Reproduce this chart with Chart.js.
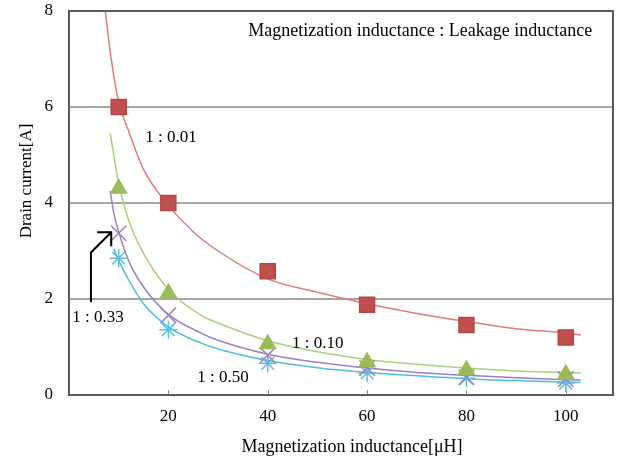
<!DOCTYPE html>
<html>
<head>
<meta charset="utf-8">
<script src="https://cdn.jsdelivr.net/npm/chart.js@4/dist/chart.umd.min.js"></script>
<style>
    html, body { margin: 0; padding: 0; background: #fff; overflow: hidden; }
    #wrap { width: 621px; height: 461px; }
</style>
</head>
<body>
<div id="wrap"><canvas id="chart"></canvas></div>
<script>
// measured points (markers)
const xMarks = [10, 20, 40, 60, 80, 100];
const ratio001 = [6.0, 4.0, 2.58, 1.88, 1.46, 1.2];
const ratio010 = [4.3, 2.12, 1.06, 0.69, 0.52, 0.43];
const ratio033 = [3.37, 1.66, 0.83, 0.56, 0.37, 0.33];
const ratio050 = [2.85, 1.36, 0.66, 0.46, 0.35, 0.25];

// trend curves
const fit001X = [7.3, 8.5, 10, 12, 15, 20, 25, 30, 40, 50, 60, 70, 80, 90, 100, 103];
const fit001Y = [8.0, 7.0, 6.1, 5.5, 4.7, 3.95, 3.4, 3.0, 2.42, 2.14, 1.9, 1.7, 1.53, 1.38, 1.29, 1.25];
const fit010X = [8.3, 9, 10, 12, 15, 20, 26.6, 30, 40, 50, 60, 70, 80, 90, 100, 103];
const fit010Y = [5.45, 5.0, 4.4, 3.64, 2.95, 2.2, 1.66, 1.5, 1.13, 0.9, 0.74, 0.64, 0.56, 0.5, 0.47, 0.46];
const fit033X = [8.3, 9, 10, 12, 15, 20, 26.6, 30, 40, 50, 60, 70, 80, 90, 100, 103];
const fit033Y = [4.25, 3.8, 3.4, 2.8, 2.25, 1.68, 1.29, 1.14, 0.85, 0.68, 0.56, 0.47, 0.41, 0.36, 0.32, 0.31];
const fit050X = [9, 10, 12, 15, 20, 26.6, 30, 40, 50, 60, 70, 80, 90, 100, 103];
const fit050Y = [3.05, 2.8, 2.4, 1.9, 1.42, 1.08, 0.96, 0.72, 0.57, 0.47, 0.4, 0.34, 0.3, 0.27, 0.26];

const xTicks = [20, 40, 60, 80, 100];
const yTicks = [0, 2, 4, 6, 8];

const FONT = "'Liberation Serif', 'Times New Roman', serif";

function pts(xs, ys) {
    return xs.map((x, i) => ({x: x, y: ys[i]}));
}

function marks(label, ys, style, radius, fill, border) {
    return {
        label: label,
        data: pts(xMarks, ys),
        showLine: false,
        pointStyle: style,
        pointRadius: radius,
        pointHoverRadius: radius,
        pointBackgroundColor: fill,
        pointBorderColor: border,
        pointBorderWidth: 1.5,
        order: 0
    };
}

function curve(label, xs, ys, color) {
    return {
        label: label,
        data: pts(xs, ys),
        showLine: true,
        pointRadius: 0,
        borderColor: color,
        borderWidth: 1.5,
        cubicInterpolationMode: 'monotone',
        order: 1
    };
}

// text, arrow, frame and axis titles
const extras = {
    id: 'extras',
    beforeDatasetsDraw(chart) {
        const {ctx, chartArea: a, scales: {x, y}} = chart;
        ctx.save();
        ctx.strokeStyle = '#8c8c8c';
        ctx.lineWidth = 1;
        for (const v of xTicks) {
            const px = Math.round(x.getPixelForValue(v)) + 0.5;
            ctx.beginPath();
            ctx.moveTo(px, a.bottom);
            ctx.lineTo(px, a.bottom - 5);
            ctx.stroke();
        }
        ctx.restore();
    },
    afterDraw(chart) {
        const {ctx, chartArea: a, scales: {x, y}} = chart;
        ctx.save();
        ctx.strokeStyle = '#5a5a5a';
        ctx.lineWidth = 2;
        ctx.strokeRect(a.left, a.top, a.right - a.left, a.bottom - a.top);

        ctx.fillStyle = '#000';
        ctx.textBaseline = 'middle';

        ctx.font = '18px ' + FONT;
        ctx.textAlign = 'center';
        ctx.fillText('Magnetization inductance : Leakage inductance', x.getPixelForValue(70.7), y.getPixelForValue(7.58));

        ctx.font = '17px ' + FONT;
        ctx.textAlign = 'left';
        ctx.fillText('1 : 0.01', x.getPixelForValue(15.35), y.getPixelForValue(5.36));
        ctx.fillText('1 : 0.10', x.getPixelForValue(44.9), y.getPixelForValue(1.08));
        ctx.fillText('1 : 0.50', x.getPixelForValue(25.8), y.getPixelForValue(0.37));
        ctx.fillText('1 : 0.33', x.getPixelForValue(0.66), y.getPixelForValue(1.62));

        // arrow to the 1 : 0.33 curve
        const x0 = x.getPixelForValue(4.42), yA = y.getPixelForValue(1.93), yB = y.getPixelForValue(2.97);
        const tx = x.getPixelForValue(8.5), ty = y.getPixelForValue(3.39);
        ctx.strokeStyle = '#000';
        ctx.lineWidth = 2;
        ctx.beginPath();
        ctx.moveTo(x0, yA);
        ctx.lineTo(x0, yB);
        ctx.lineTo(tx, ty);
        ctx.stroke();
        ctx.beginPath();
        ctx.moveTo(tx - 14, ty);
        ctx.lineTo(tx, ty);
        ctx.lineTo(tx, ty + 14);
        ctx.stroke();

        // axis titles
        ctx.font = '18px ' + FONT;
        ctx.textAlign = 'center';
        ctx.fillText('Magnetization inductance[\u03bcH]', 352, 447);
        ctx.font = '17px ' + FONT;
        ctx.translate(27, 181);
        ctx.rotate(-Math.PI / 2);
        ctx.fillText('Drain current[A]', 0, 0);
        ctx.restore();
    }
};

new Chart(document.getElementById('chart'), {
    type: 'scatter',
    data: {
        datasets: [
            marks('1 : 0.01', ratio001, 'rect', 10.6, '#c0504d', '#b54542'),
            marks('1 : 0.10', ratio010, 'triangle', 9, '#9bbb59', '#9bbb59'),
            marks('1 : 0.33', ratio033, 'crossRot', 11, '#8064a2', '#9a84c0'),
            marks('1 : 0.50', ratio050, 'star', 9, '#4bacc6', '#5bbde0'),
            curve('fit 1 : 0.01', fit001X, fit001Y, '#e07a78'),
            curve('fit 1 : 0.10', fit010X, fit010Y, '#a9cf7c'),
            curve('fit 1 : 0.33', fit033X, fit033Y, '#9a7fcb'),
            curve('fit 1 : 0.50', fit050X, fit050Y, '#4fbde0')
        ]
    },
    plugins: [extras],
    options: {
        responsive: true,
        maintainAspectRatio: false,
        animation: false,
        layout: {autoPadding: false, padding: {top: 11, right: 8, left: 0, bottom: 0}},
        plugins: {
            legend: {display: false},
            tooltip: {enabled: false}
        },
        scales: {
            x: {
                type: 'linear',
                min: 0,
                max: 109.5,
                afterBuildTicks: (s) => { s.ticks = xTicks.map(v => ({value: v})); },
                afterFit: (s) => { s.height = 66; s.paddingLeft = 0; s.paddingRight = 0; },
                border: {display: false},
                grid: {display: false, drawTicks: false},
                ticks: {color: '#000', padding: 11, font: {family: FONT, size: 17}}
            },
            y: {
                type: 'linear',
                min: 0,
                max: 8,
                afterBuildTicks: (s) => { s.ticks = yTicks.map(v => ({value: v})); },
                afterFit: (s) => { s.width = 69; s.paddingTop = 0; s.paddingBottom = 0; },
                border: {display: false},
                grid: {
                    drawTicks: false,
                    lineWidth: 2,
                    color: (c) => (c.tick && c.tick.value > 0 && c.tick.value < 8) ? '#a6a6a6' : 'rgba(0,0,0,0)'
                },
                ticks: {color: '#000', padding: 16, font: {family: FONT, size: 17}}
            }
        }
    }
});
</script>
</body>
</html>
